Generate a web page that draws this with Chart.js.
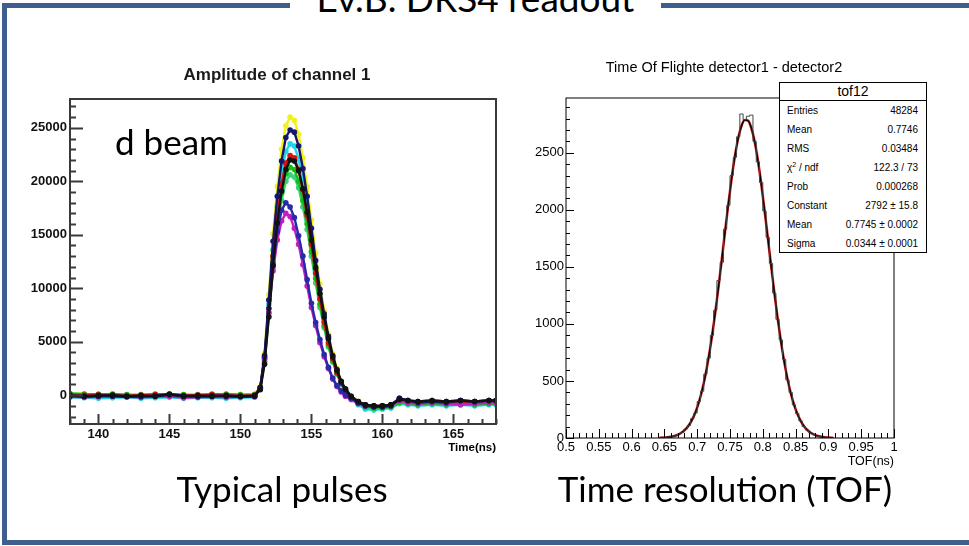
<!DOCTYPE html>
<html lang="en">
<head>
<meta charset="UTF-8" />
<title>Ev.B. DRS4 readout</title>
<script src="https://cdn.jsdelivr.net/npm/chart.js"></script>
<style>
  body { margin: 0; width: 969px; height: 546px; position: relative; overflow: hidden; background: #fff; font-family: Lato, sans-serif; }
  .frame { position: absolute; left: 2px; top: 3px; width: 1000px; height: 532px; border-left: 5px solid #3e5f8e; border-top: 5px solid #3e5f8e; border-bottom: 5px solid #3e5f8e; }
  .title-mask { position: absolute; left: 290px; top: 0; width: 371px; height: 14px; background: #fff; }
  .slide-title { position: absolute; left: 290px; top: -21px; width: 371px; text-align: center; font-size: 37px; line-height: 37px; color: #000; }
  .caption { position: absolute; font-size: 35px; line-height: 35px; text-align: center; color: #000; }
  .root { position: absolute; font-family: "Liberation Sans", Arial, sans-serif; color: #000; white-space: nowrap; }
  canvas { position: absolute; }
  .stats { position: absolute; left: 779px; top: 82px; width: 146px; height: 169px; border: 1px solid #000; background: #fff; font-family: "Liberation Sans", Arial, sans-serif; }
  .stats .head { height: 17px; line-height: 17px; border-bottom: 1px solid #000; text-align: center; font-size: 14px; }
  .stats .row { height: 19px; line-height: 19px; display: flex; justify-content: space-between; padding: 0 8px 0 7px; font-size: 10px; }
  .stats sup { font-size: 7px; line-height: 0; vertical-align: 4px; }
</style>
</head>
<body>
  <div class="frame"></div>
  <div class="title-mask"></div>
  <div class="slide-title">Ev.B. DRS4 readout</div>

  <canvas id="pulseChart" width="510" height="420" style="left:0;top:50px"></canvas>
  <canvas id="tofChart" width="430" height="420" style="left:520px;top:50px"></canvas>

  <div class="root" style="left:177px;top:66px;width:200px;text-align:center;font-size:17px;font-weight:bold;line-height:17px;color:#1a1a1a">Amplitude of channel 1</div>
  <div class="root" style="left:396px;top:441px;width:100px;text-align:right;font-size:11.5px;font-weight:bold;line-height:12px">Time(ns)</div>
  <div class="caption" style="left:115px;top:124px">d beam</div>

  <div class="root" style="left:574px;top:60px;width:300px;text-align:center;font-size:14.5px;line-height:14.5px">Time Of Flighte detector1 - detector2</div>
  <div class="root" style="left:794px;top:455px;width:100px;text-align:right;font-size:12.5px;line-height:13px">TOF(ns)</div>
  <div class="stats" id="stats"><div class="head">tof12</div></div>

  <div class="caption" style="left:132px;top:471px;width:300px">Typical pulses</div>
  <div class="caption" style="left:525px;top:471px;width:400px">Time resolution (TOF)</div>

<script>
  // ---- left: DRS4 pulses (time in ns, amplitude in ADC counts)
  const pulseTime = [138, 139, 140, 141, 142, 143, 144, 145, 146, 147, 148, 149, 150, 151,
    151.4, 151.7, 152, 152.3, 152.6, 152.9, 153.2, 153.5, 153.8, 154.1, 154.4, 154.7, 155, 155.3,
    155.6, 155.9, 156.2, 156.5, 156.8, 157.1, 157.4,
    157.8, 158.3, 158.8, 159.4, 160, 160.6, 161.2, 161.8, 162.5, 163.5, 164.5, 165.5, 166.5, 167.5, 168];

  const pulseBlack = [-50, -100, -50, 0, -100, -50, -100, 50, -100, -50, -100, -50, -100, -50,
    500, 2900, 7300, 12100, 16100, 19100, 21100, 22000, 21900, 21000, 19300, 17100, 14500, 11900,
    9500, 7300, 5300, 3600, 2300, 1300, 600,
    -100, -600, -900, -1000, -1000, -900, -400, -500, -600, -500, -600, -500, -600, -500, -500];
  const pulseNavy = [0, -100, -50, -100, -150, -100, -50, 100, -50, -100, -50, -100, -150, -100,
    700, 3700, 8900, 14400, 18600, 21900, 24100, 24800, 24600, 23300, 21200, 18600, 15600, 12600,
    9900, 7600, 5500, 3700, 2400, 1200, 500,
    -200, -700, -1000, -1100, -1100, -1000, -300, -500, -700, -600, -700, -500, -600, -500, -500];
  const pulseBlue = [-100, -150, -100, -50, -100, -150, -100, 50, -100, -150, -100, -50, -100, -100,
    700, 3600, 8100, 12200, 15300, 17300, 18000, 17600, 16600, 14900, 13000, 10800, 8600, 6800,
    5200, 3800, 2600, 1600, 900, 400, 0,
    -300, -700, -900, -1000, -1000, -900, -300, -500, -600, -500, -600, -500, -600, -500, -500];
  const pulseMagenta = [-150, -200, -150, -100, -150, -200, -150, -100, -250, -200, -150, -200, -150, -150,
    700, 3400, 7700, 11600, 14500, 16300, 17000, 16700, 15600, 14100, 12200, 10200, 8200, 6500,
    4900, 3600, 2500, 1500, 800, 300, -100,
    -400, -800, -1000, -1100, -1100, -1000, -500, -700, -800, -700, -800, -900, -800, -700, -700];
  const pulseRed = [50, 0, 50, 0, -50, 0, 50, 0, -50, 0, 50, 0, -50, 0,
    700, 3400, 8100, 13000, 16800, 19800, 21700, 22400, 22200, 21100, 19200, 16800, 14100, 11400,
    9000, 6800, 4900, 3400, 2100, 1100, 400,
    -200, -600, -900, -1000, -1000, -900, -400, -600, -700, -600, -700, -600, -700, -600, -600];
  const pulseGreen = [150, 100, 50, 100, 50, 0, 50, 100, 50, 0, 50, 100, 50, 50,
    600, 3200, 7700, 12400, 16000, 18900, 20700, 21300, 21100, 20000, 18200, 16000, 13400, 10900,
    8500, 6500, 4700, 3200, 2000, 1100, 400,
    -100, -700, -1100, -1200, -1200, -1100, -700, -800, -900, -800, -900, -800, -900, -800, -800];
  const pulseSpring = [100, 50, 100, 50, 0, 50, 100, 50, 0, 50, 100, 50, 0, 50,
    600, 3100, 7400, 11900, 15500, 18200, 20000, 20600, 20400, 19400, 17600, 15500, 13000, 10500,
    8200, 6300, 4500, 3100, 2000, 1000, 400,
    -200, -800, -1100, -1200, -1100, -1000, -600, -700, -800, -700, -800, -700, -800, -700, -700];
  const pulseCyan = [-200, -250, -300, -250, -200, -300, -250, -200, -300, -250, -250, -300, -250, -200,
    700, 3500, 8500, 13600, 17600, 20800, 22800, 23500, 23300, 22100, 20100, 17600, 14800, 12000,
    9400, 7200, 5200, 3500, 2200, 1200, 400,
    -300, -900, -1300, -1400, -1300, -1200, -800, -900, -1000, -900, -1000, -900, -1000, -900, -900];
  const pulseYellow = [150, 100, 50, 100, 0, 50, 100, 50, 0, 50, 100, 0, 50, 100,
    800, 3900, 9400, 15100, 19500, 23000, 25200, 26000, 25700, 24400, 22200, 19500, 16400, 13300,
    10400, 7900, 5700, 3900, 2500, 1300, 500,
    -100, -600, -900, -1000, -1000, -900, -400, -600, -700, -600, -700, -600, -700, -600, -600];

  const pulseXTicks = [140, 145, 150, 155, 160, 165];
  const pulseYTicks = [0, 5000, 10000, 15000, 20000, 25000];

  // ---- right: TOF histogram (bin centres in ns, counts per 0.005 ns bin) and gaussian fit
  const tofBins = [0.6425, 0.6475, 0.6525, 0.6575, 0.6625, 0.6675, 0.6725, 0.6775, 0.6825, 0.6875,
    0.6925, 0.6975, 0.7025, 0.7075, 0.7125, 0.7175, 0.7225, 0.7275, 0.7325, 0.7375,
    0.7425, 0.7475, 0.7525, 0.7575, 0.7625, 0.7675, 0.7725, 0.7775, 0.7825, 0.7875,
    0.7925, 0.7975, 0.8025, 0.8075, 0.8125, 0.8175, 0.8225, 0.8275, 0.8325, 0.8375,
    0.8425, 0.8475, 0.8525, 0.8575, 0.8625, 0.8675, 0.8725, 0.8775, 0.8825, 0.8875,
    0.8925, 0.8975, 0.9025, 0.9075];
  const tofCounts = [0, 2, 5, 8, 15, 20, 36, 50, 80, 110,
    170, 220, 320, 410, 560, 700, 900, 1120, 1380, 1540,
    1830, 2040, 2300, 2460, 2640, 2840, 2790, 2820, 2830, 2600,
    2420, 2240, 1990, 1760, 1530, 1270, 1040, 860, 690, 510,
    400, 290, 215, 150, 100, 70, 45, 30, 18, 12,
    6, 4, 1, 0];
  const tofFit = [1, 3, 5, 9, 14, 22, 34, 52, 78, 114,
    163, 228, 312, 419, 550, 708, 890, 1098, 1325, 1565,
    1811, 2052, 2275, 2471, 2627, 2735, 2787, 2781, 2717, 2600,
    2435, 2233, 2005, 1763, 1517, 1278, 1055, 852, 674, 522,
    396, 294, 214, 152, 106, 72, 48, 32, 20, 13,
    8, 5, 3, 2];

  const tofXTicks = [0.5, 0.55, 0.6, 0.65, 0.7, 0.75, 0.8, 0.85, 0.9, 0.95, 1];
  const tofYTicks = [0, 500, 1000, 1500, 2000, 2500];

  const statLabels = ["Entries", "Mean", "RMS", "χ<sup>2</sup> / ndf", "Prob", "Constant", "Mean", "Sigma"];
  const statValues = ["48284", "0.7746", "0.03484", "122.3 / 73", "0.000268", "2792 ± 15.8", "0.7745 ± 0.0002", "0.0344 ± 0.0001"];

  const statsBox = document.getElementById("stats");
  statLabels.forEach((lab, i) => {
    const row = document.createElement("div");
    row.className = "row";
    row.innerHTML = `<span>${lab}</span><span>${statValues[i]}</span>`;
    statsBox.appendChild(row);
  });

  // ROOT-like frame with inward major/minor ticks
  function drawTicks(ctx, scale, t, area, axis) {
    const n0 = Math.ceil(scale.min / t.minor - 1e-6);
    const n1 = Math.floor(scale.max / t.minor + 1e-6);
    ctx.beginPath();
    for (let k = n0; k <= n1; k++) {
      const v = k * t.minor;
      const r = v / t.major;
      const len = Math.abs(r - Math.round(r)) < 1e-6 ? t.majorLen : t.minorLen;
      const p = Math.round(scale.getPixelForValue(v)) + 0.5;
      if (axis === "x") { ctx.moveTo(p, area.bottom); ctx.lineTo(p, area.bottom - len); }
      else { ctx.moveTo(area.left, p); ctx.lineTo(area.left + len, p); }
    }
    ctx.stroke();
  }

  function rootFrame(cfg) {
    return {
      id: "rootFrame",
      afterDatasetsDraw(chart) {
        const { ctx, chartArea: a, scales } = chart;
        ctx.save();
        ctx.strokeStyle = cfg.color;
        ctx.lineWidth = cfg.width;
        drawTicks(ctx, scales.x, cfg.x, a, "x");
        drawTicks(ctx, scales.y, cfg.y, a, "y");
        ctx.strokeRect(a.left, a.top, a.right - a.left, a.bottom - a.top);
        ctx.restore();
      }
    };
  }

  function fixedTicks(list) {
    return (s) => { s.ticks = list.map((v) => ({ value: v })); };
  }

  function lineSet(label, values, color) {
    return {
      label,
      data: pulseTime.map((t, i) => ({ x: t, y: values[i] })),
      borderColor: color,
      backgroundColor: color,
      borderWidth: 2.4,
      pointRadius: 2.8,
      pointBorderWidth: 0,
      tension: 0
    };
  }

  const noPlugins = { legend: { display: false }, tooltip: { enabled: false }, title: { display: false } };

  new Chart(document.getElementById("pulseChart"), {
    type: "line",
    data: {
      datasets: [
        lineSet("black", pulseBlack, "#111111"),
        lineSet("navy", pulseNavy, "#16166e"),
        lineSet("blue", pulseBlue, "#2a2aa8"),
        lineSet("magenta", pulseMagenta, "#c21fc2"),
        lineSet("red", pulseRed, "#e01010"),
        lineSet("green", pulseGreen, "#12c012"),
        lineSet("spring", pulseSpring, "#3ad27a"),
        lineSet("cyan", pulseCyan, "#1fd6e6"),
        lineSet("yellow", pulseYellow, "#f2f21a")
      ]
    },
    options: {
      responsive: false,
      animation: false,
      events: [],
      layout: { padding: { top: 49, right: 14, left: 0, bottom: 0 } },
      plugins: noPlugins,
      scales: {
        x: {
          type: "linear", min: 138, max: 168,
          grid: { display: false, drawTicks: false }, border: { display: false },
          afterBuildTicks: fixedTicks(pulseXTicks),
          afterFit: (s) => { s.height = 46; },
          ticks: { callback: (v) => String(v), autoSkip: false, maxRotation: 0, padding: 3, color: "#111",
            font: { family: "Liberation Sans", size: 13, weight: "bold" } }
        },
        y: {
          type: "linear", min: -2700, max: 27700,
          grid: { display: false, drawTicks: false }, border: { display: false },
          afterBuildTicks: fixedTicks(pulseYTicks),
          afterFit: (s) => { s.width = 70; },
          ticks: { callback: (v) => String(v), autoSkip: false, padding: 3, color: "#111",
            font: { family: "Liberation Sans", size: 13, weight: "bold" } }
        }
      }
    },
    plugins: [rootFrame({
      color: "#3a3a3a", width: 2,
      x: { major: 5, minor: 1, majorLen: 10, minorLen: 5 },
      y: { major: 5000, minor: 1000, majorLen: 13, minorLen: 6 }
    })]
  });

  new Chart(document.getElementById("tofChart"), {
    type: "line",
    data: {
      datasets: [
        { label: "tof12", data: tofBins.map((x, i) => ({ x, y: tofCounts[i] })), borderColor: "#444",
          borderWidth: 1, pointRadius: 0, stepped: "middle" },
        { label: "fit", data: tofBins.map((x, i) => ({ x, y: tofFit[i] })), borderColor: "#000",
          borderWidth: 1.4, pointRadius: 0, cubicInterpolationMode: "monotone" },
        { label: "gaus", data: tofBins.map((x, i) => ({ x, y: tofFit[i] })), borderColor: "#e02525",
          borderWidth: 2.6, pointRadius: 0, cubicInterpolationMode: "monotone" }
      ]
    },
    options: {
      responsive: false,
      animation: false,
      events: [],
      layout: { padding: { top: 48, right: 56, left: 0, bottom: 0 } },
      plugins: noPlugins,
      scales: {
        x: {
          type: "linear", min: 0.5, max: 1,
          grid: { display: false, drawTicks: false }, border: { display: false },
          afterBuildTicks: fixedTicks(tofXTicks),
          afterFit: (s) => { s.height = 32; },
          ticks: { callback: (v) => String(v), autoSkip: false, maxRotation: 0, padding: 2, color: "#000",
            font: { family: "Liberation Sans", size: 13 } }
        },
        y: {
          type: "linear", min: 0, max: 2980,
          grid: { display: false, drawTicks: false }, border: { display: false },
          afterBuildTicks: fixedTicks(tofYTicks),
          afterFit: (s) => { s.width = 46; },
          ticks: { callback: (v) => String(v), autoSkip: false, padding: 2, color: "#000",
            font: { family: "Liberation Sans", size: 13 } }
        }
      }
    },
    plugins: [rootFrame({
      color: "#000", width: 1,
      x: { major: 0.05, minor: 0.01, majorLen: 9, minorLen: 5 },
      y: { major: 500, minor: 100, majorLen: 8, minorLen: 4 }
    })]
  });
</script>
</body>
</html>
